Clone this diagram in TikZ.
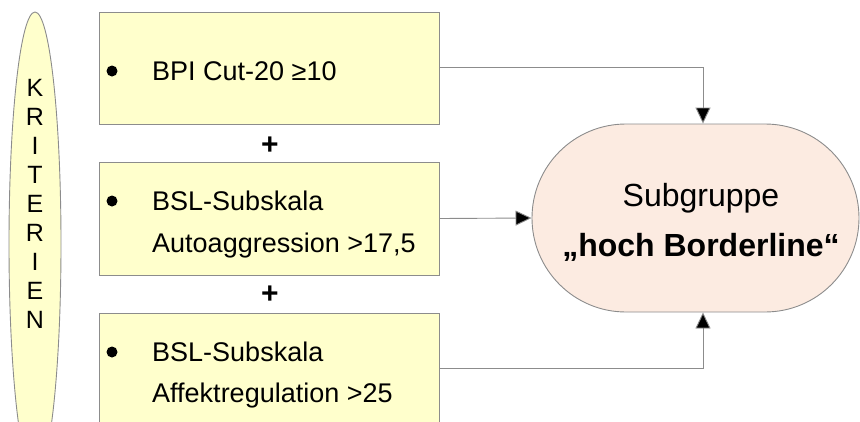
\documentclass[tikz,border=0pt]{standalone}
\usepackage{fontspec}
\setmainfont{Liberation Sans}
\usetikzlibrary{arrows.meta,shapes.misc}
\definecolor{boxfill}{HTML}{FFFFCC}
\definecolor{edge}{HTML}{8C8C8C}
\definecolor{goalfill}{HTML}{FCEBE1}
\tikzset{
  crit/.style={draw=edge, fill=boxfill, line width=0.9pt},
  conn/.style={draw=edge, line width=0.9pt, -{Triangle[length=16pt,width=15pt,fill=black]}},
  txt/.style={font=\fontsize{27}{32}\selectfont, anchor=base west, inner sep=0pt},
  bul/.style={fill=black, circle, minimum size=11pt, inner sep=0pt},
  plus/.style={font=\fontsize{30}{32}\selectfont\bfseries, inner sep=0pt},
}
\begin{document}
\begin{tikzpicture}[x=1pt,y=-1pt]
\useasboundingbox (0,0) rectangle (860,421);
\clip (0,0) rectangle (860,421);
% left ellipse
\draw[crit] (35,244) ellipse [x radius=26, y radius=232];
\node[font=\fontsize{25}{29}\selectfont, align=center, inner sep=0pt] (krit) at (35,204)
  {K\\R\\I\\T\\E\\R\\I\\E\\N};
% boxes
\node[crit, minimum width=340pt, minimum height=112pt, inner sep=0pt] (b1) at (269,68) {};
\node[crit, minimum width=340pt, minimum height=113pt, inner sep=0pt] (b2) at (269,218.5) {};
\node[crit, minimum width=340pt, minimum height=113pt, inner sep=0pt] (b3) at (269,369.5) {};
% bullets and texts
\node[bul] (u1) at (112,71) {};
\node[txt] (t1) at (152,80) {BPI Cut-20 ≥10};
\node[bul] (u2) at (112,201) {};
\node[txt] (t2a) at (152,210) {BSL-Subskala};
\node[txt] (t2b) at (152,252) {Autoaggression >17,5};
\node[bul] (u3) at (112,352) {};
\node[txt] (t3a) at (152,361) {BSL-Subskala};
\node[txt] (t3b) at (152,402) {Affektregulation >25};
% plus signs
\node[plus] (p1) at (270,146) {+};
\node[plus] (p2) at (270,295) {+};
% goal
\node[draw=edge, fill=goalfill, line width=0.9pt, rounded rectangle, minimum width=327pt, minimum height=188pt, inner sep=0pt] (g) at (695.5,218) {};
\node[font=\fontsize{32}{50}\selectfont, align=center, inner sep=0pt] (gt) at (701,222)
  {Subgruppe\\\textbf{„hoch Borderline“}};
% connectors
\coordinate (c1) at (703,67);
\coordinate (c3) at (703,368);
\draw[conn] (b1.east |- c1) -- (c1) -- (g.north -| c1);
\draw[conn] (b2.east) -- (g.west);
\draw[conn] (b3.east |- c3) -- (c3) -- (g.south -| c3);
\end{tikzpicture}
\end{document}
